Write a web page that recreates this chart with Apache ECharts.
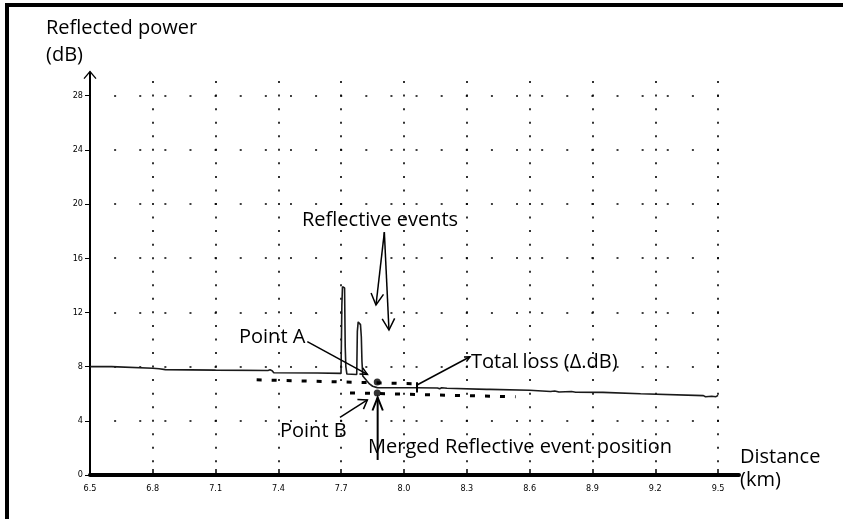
<!DOCTYPE html>
<html>
<head>
<meta charset="utf-8">
<script src="https://cdn.jsdelivr.net/npm/echarts@6/dist/echarts.min.js"></script>
<style>
  html, body { margin: 0; padding: 0; background: #fff; }
  #chart { width: 843px; height: 519px; }
</style>
</head>
<body>
<div id="chart"></div>
<script>
// Axis ticks
const xTicks = [6.5, 6.8, 7.1, 7.4, 7.7, 8.0, 8.3, 8.6, 8.9, 9.2, 9.5];
const yTicks = [0, 4, 8, 12, 16, 20, 24, 28];

// OTDR trace: distance (km) and reflected power (dB)
const traceKm = [
  6.500, 6.603, 6.606, 6.800, 6.803, 6.830, 6.860, 7.100, 7.350, 7.360,
  7.370, 7.378, 7.585, 7.588, 7.699, 7.703, 7.706, 7.712, 7.716, 7.719,
  7.722, 7.727, 7.774, 7.777, 7.781, 7.787, 7.792, 7.796, 7.799, 7.803,
  7.812, 7.822, 7.835, 7.850, 7.872, 8.060, 8.160, 8.170, 8.180, 8.205,
  8.210, 8.395, 8.400, 8.410, 8.600, 8.605, 8.700, 8.720, 8.740, 8.800,
  8.820, 8.950, 8.955, 9.130, 9.135, 9.430, 9.440, 9.470, 9.490, 9.500
];
const traceDb = [
  8.00, 8.00, 7.90, 7.88, 7.82, 7.84, 7.78, 7.74, 7.71, 7.76,
  7.70, 7.55, 7.53, 7.50, 7.50, 12.5, 13.9, 14.0, 13.8, 9.5,
  8.00, 7.45, 7.42, 10.6, 11.3, 11.35, 11.1, 10.2, 8.4, 7.30,
  7.20, 6.95, 6.72, 6.55, 6.45, 6.44, 6.42, 6.36, 6.44, 6.40,
  6.34, 6.32, 6.27, 6.32, 6.26, 6.18, 6.16, 6.20, 6.13, 6.16,
  6.11, 6.10, 6.00, 6.00, 5.86, 5.86, 5.78, 5.81, 5.78, 5.88
];

// Least-squares fits before (A) and after (B) the merged event
const fitAKm = [7.296, 8.063];
const fitADb = [7.03, 6.73];
const fitBKm = [7.742, 8.533];
const fitBDb = [6.06, 5.77];

// Point A and point B at the merged event position
const eventKm = [7.872, 7.872];
const eventDb = [6.86, 6.06];

// Total loss marker
const lossKm = [8.062, 8.062];
const lossDb = [6.85, 6.08];

const zip = (a, b) => a.map((v, i) => [v, b[i]]);

const FONT = "'Open Sans', 'Noto Sans', sans-serif";
const TICK_FONT = "'Liberation Sans Narrow', 'DejaVu Sans Condensed', sans-serif";

const chart = echarts.init(document.getElementById('chart'), null, { renderer: 'canvas' });

const option = {
  animation: false,
  backgroundColor: '#fff',
  grid: { left: 90, right: 104, top: 72.6, bottom: 44, containLabel: false },
  xAxis: {
    type: 'value',
    min: 6.5,
    max: 9.6,
    axisLine: { show: true, onZero: false, lineStyle: { color: '#000', width: 4 } },
    axisTick: { show: true, inside: true, length: 6, customValues: xTicks,
      lineStyle: { color: '#000', width: 1.5 } },
    axisLabel: { customValues: xTicks, formatter: v => v.toFixed(1), margin: 9,
      fontSize: 9, fontFamily: TICK_FONT, color: '#000' },
    splitLine: { show: true, showMinLine: false,
      lineStyle: { color: '#000', width: 1.6, type: [2, 11.546], dashOffset: 5.07, cap: 'butt' } }
  },
  yAxis: {
    type: 'value',
    min: 0,
    max: 29.7,
    axisLine: { show: true, onZero: false, lineStyle: { color: '#000', width: 2 } },
    axisTick: { show: true, length: 5, customValues: yTicks,
      lineStyle: { color: '#000', width: 1 } },
    axisLabel: { customValues: yTicks, margin: 7, fontSize: 9, fontFamily: TICK_FONT, color: '#000' },
    splitLine: { show: true, showMinLine: false,
      lineStyle: { color: '#000', width: 1.6, type: [2, 23.12], dashOffset: 1, cap: 'butt' } }
  },
  series: [
    {
      name: 'Trace', type: 'line', data: zip(traceKm, traceDb),
      symbol: 'none', z: 5,
      lineStyle: { color: '#1a1a1a', width: 1.6 }
    },
    {
      name: 'Fit A', type: 'line', data: zip(fitAKm, fitADb),
      symbol: 'none', z: 4,
      lineStyle: { color: '#000', width: 3, type: [5, 10], cap: 'butt' }
    },
    {
      name: 'Fit B', type: 'line', data: zip(fitBKm, fitBDb),
      symbol: 'none', z: 4,
      lineStyle: { color: '#000', width: 3, type: [5, 10], cap: 'butt' }
    },
    {
      name: 'Total loss', type: 'line', data: zip(lossKm, lossDb),
      symbol: 'none', z: 6,
      lineStyle: { color: '#000', width: 2 }
    },
    {
      name: 'Event points', type: 'scatter', data: zip(eventKm, eventDb),
      symbol: 'circle', symbolSize: 7, z: 7,
      itemStyle: { color: '#000' }
    }
  ]
};

chart.setOption(option);

// ---- annotations ----
const px = (km, db) => chart.convertToPixel({ gridIndex: 0 }, [km, db]);

function arrow(from, to, headLen, spread, width) {
  const p0 = px(from[0], from[1]);
  const p1 = px(to[0], to[1]);
  const els = [{
    type: 'polyline', silent: true, z: 20,
    shape: { points: [p0, p1] },
    style: { stroke: '#000', lineWidth: width || 1.5, fill: null }
  }];
  if (headLen > 0) {
    const ang = Math.atan2(p0[1] - p1[1], p0[0] - p1[0]);
    const w1 = [p1[0] + headLen * Math.cos(ang + spread), p1[1] + headLen * Math.sin(ang + spread)];
    const w2 = [p1[0] + headLen * Math.cos(ang - spread), p1[1] + headLen * Math.sin(ang - spread)];
    els.push({
      type: 'polyline', silent: true, z: 20,
      shape: { points: [w1, p1, w2] },
      style: { stroke: '#000', lineWidth: width || 1.5, fill: null }
    });
  }
  return els;
}

function label(text, x, y) {
  return {
    type: 'text', silent: true, z: 20, x: x, y: y,
    style: { text: text, fontSize: 20, fontFamily: FONT, fill: '#000',
      align: 'left', verticalAlign: 'middle' }
  };
}

const axisTop = px(6.5, 29.7);

const graphics = [
  // frame
  { type: 'rect', silent: true, shape: { x: 5, y: 3, width: 838, height: 4 }, style: { fill: '#000' } },
  { type: 'rect', silent: true, shape: { x: 5, y: 3, width: 4, height: 516 }, style: { fill: '#000' } },
  // arrowhead on the power axis
  { type: 'polyline', silent: true, z: 20,
    shape: { points: [[axisTop[0] - 6, axisTop[1] + 6], [axisTop[0], axisTop[1] - 1], [axisTop[0] + 6, axisTop[1] + 6]] },
    style: { stroke: '#000', lineWidth: 1.3, fill: null } },
  // axis titles
  label('Reflected power', 46, 28.3),
  label('(dB)', 46, 55.3),
  label('Distance', 740, 457.3),
  label('(km)', 740, 480.3),
  // callouts
  label('Reflective events', 302, 220.3),
  label('Point A', 239, 337.6),
  label('Total loss (\u0394.dB)', 471, 362.6),
  label('Point B', 280, 431),
  label('Merged Reflective event position', 368, 447.3)
]
  .concat(arrow([7.906, 17.92], [7.866, 12.55], 13, 0.5))
  .concat(arrow([7.906, 17.92], [7.928, 10.70], 13, 0.5))
  .concat(arrow([7.538, 9.84], [7.825, 7.43], 8, 0.45))
  .concat(arrow([7.694, 4.26], [7.825, 5.54], 10, 0.6))
  .concat(arrow([7.874, 1.11], [7.874, 5.72], 14, 0.38, 2))
  .concat(arrow([8.062, 6.64], [8.315, 8.73], 6, 0.45));

chart.setOption({ graphic: graphics });
</script>
</body>
</html>
